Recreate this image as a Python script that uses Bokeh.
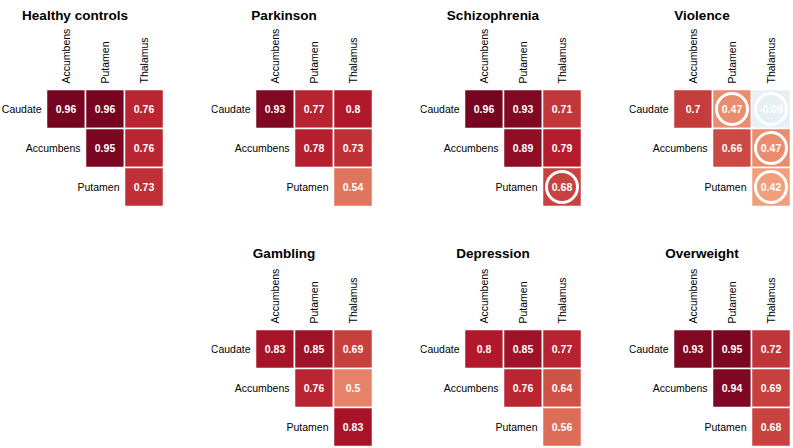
import math
from bokeh.plotting import figure
from bokeh.layouts import row, column, Spacer
from bokeh.models import ColumnDataSource, Range1d
from bokeh.core.properties import value
from bokeh.embed import file_html
from bokeh.resources import INLINE

# ---------------- data ----------------
row_regions = ["Caudate", "Accumbens", "Putamen"]
col_regions = ["Accumbens", "Putamen", "Thalamus"]
pair_rows = ["Caudate", "Caudate", "Caudate", "Accumbens", "Accumbens", "Putamen"]
pair_cols = ["Accumbens", "Putamen", "Thalamus", "Putamen", "Thalamus", "Thalamus"]

groups = ["Healthy controls", "Parkinson", "Schizophrenia", "Violence",
          "Gambling", "Depression", "Overweight"]

healthy_controls = [0.96, 0.96, 0.76, 0.95, 0.76, 0.73]
parkinson = [0.93, 0.77, 0.8, 0.78, 0.73, 0.54]
schizophrenia = [0.96, 0.93, 0.71, 0.89, 0.79, 0.68]
violence = [0.7, 0.47, -0.09, 0.66, 0.47, 0.42]
gambling = [0.83, 0.85, 0.69, 0.76, 0.5, 0.83]
depression = [0.8, 0.85, 0.77, 0.76, 0.64, 0.56]
overweight = [0.93, 0.95, 0.72, 0.94, 0.69, 0.68]

# cells marked with a ring (1 = marked)
healthy_controls_mark = [0, 0, 0, 0, 0, 0]
parkinson_mark = [0, 0, 0, 0, 0, 0]
schizophrenia_mark = [0, 0, 0, 0, 0, 1]
violence_mark = [0, 1, 1, 0, 1, 1]
gambling_mark = [0, 0, 0, 0, 0, 0]
depression_mark = [0, 0, 0, 0, 0, 0]
overweight_mark = [0, 0, 0, 0, 0, 0]

group_values = [healthy_controls, parkinson, schizophrenia, violence,
                gambling, depression, overweight]
group_marks = [healthy_controls_mark, parkinson_mark, schizophrenia_mark, violence_mark,
               gambling_mark, depression_mark, overweight_mark]

# ---------------- style ----------------
RDBU = ["#67001F", "#B2182B", "#D6604D", "#F4A582", "#FDDBC7", "#F7F7F7",
        "#D1E5F0", "#92C5DE", "#4393C3", "#2166AC", "#053061"]  # +1 .. -1


def corr_color(v):
    t = (1.0 - v) / 2.0 * (len(RDBU) - 1)
    i = min(int(math.floor(t)), len(RDBU) - 2)
    f = t - i
    a = RDBU[i]
    b = RDBU[i + 1]
    ca = [int(a[k:k + 2], 16) for k in (1, 3, 5)]
    cb = [int(b[k:k + 2], 16) for k in (1, 3, 5)]
    c = [round(ca[k] + (cb[k] - ca[k]) * f) for k in range(3)]
    return "#%02x%02x%02x" % tuple(c)


FONT = value("Liberation Sans")
CELL = 39.0  # px per cell


def make_panel(title, vals, marks, left_px, right_px, top_px, bottom_px, title_base):
    xs = [col_regions.index(c) for c in pair_cols]
    ys = [-row_regions.index(r) for r in pair_rows]
    src = ColumnDataSource(dict(
        x=xs, y=ys, v=vals,
        label=[f"{v:g}" for v in vals],
        color=[corr_color(v) for v in vals],
    ))
    y_top = 0.5 + top_px / CELL
    p = figure(
        width=int(3 * CELL + left_px + right_px), height=int(3 * CELL + top_px + bottom_px),
        x_range=Range1d(-0.5 - left_px / CELL, 2.5 + right_px / CELL),
        y_range=Range1d(-2.5 - bottom_px / CELL, y_top),
        x_axis_location=None, y_axis_location=None,
        output_backend="svg", toolbar_location=None,
        min_border_left=0, min_border_right=0,
        min_border_top=0, min_border_bottom=0,
    )
    p.grid.visible = False
    p.outline_line_color = None
    p.background_fill_color = "white"
    p.border_fill_color = "white"

    p.rect(x="x", y="y", width=1, height=1, source=src,
           fill_color="color", line_color="white", line_width=1.5)

    mx = [x for x, m in zip(xs, marks) if m]
    my = [y for y, m in zip(ys, marks) if m]
    if mx:
        p.scatter(x=mx, y=my, marker="circle", size=31, fill_color=None,
                  line_color="white", line_width=3)

    p.text(x="x", y="y", text="label", source=src, text_align="center",
           text_baseline="middle", text_color="white", text_font=FONT,
           text_font_size="10.5px", text_font_style="bold")

    # row labels, placed next to the first cell of each row
    rl_x, rl_y = [], []
    for r in row_regions:
        cols_here = [col_regions.index(c) for rr, c in zip(pair_rows, pair_cols) if rr == r]
        rl_x.append(min(cols_here))
        rl_y.append(-row_regions.index(r))
    p.text(x=rl_x, y=rl_y, text=row_regions, x_offset=-(CELL / 2 + 5),
           text_align="right", text_baseline="middle", text_color="black",
           text_font=FONT, text_font_size="10.5px")

    # column labels, rotated above the heatmap
    p.text(x=list(range(len(col_regions))), y=[0.5] * len(col_regions), text=col_regions,
           angle=math.pi / 2, y_offset=-6, text_align="left", text_baseline="middle",
           text_color="black", text_font=FONT, text_font_size="10.5px")

    # panel title
    p.text(x=[-0.5 + 28.5 / CELL], y=[y_top], text=[title], y_offset=title_base,
           text_align="center", text_baseline="alphabetic", text_color="black",
           text_font=FONT, text_font_size="13.5px", text_font_style="bold")
    return p


lefts = [46, 44, 44, 44]
rights = [48, 48, 48, 2]
top_row = [make_panel(groups[k], group_values[k], group_marks[k],
                      lefts[k], rights[k], 89, 0, 15)
           for k in range(4)]
bottom_row = [make_panel(groups[k], group_values[k], group_marks[k],
                         lefts[k - 3], rights[k - 3], 123, 2, 47)
              for k in range(4, 7)]

layout = column(row(*top_row),
                row(Spacer(width=int(3 * CELL + lefts[0] + rights[0]), height=10), *bottom_row))

open("out.html", "w").write(file_html(layout, INLINE))
